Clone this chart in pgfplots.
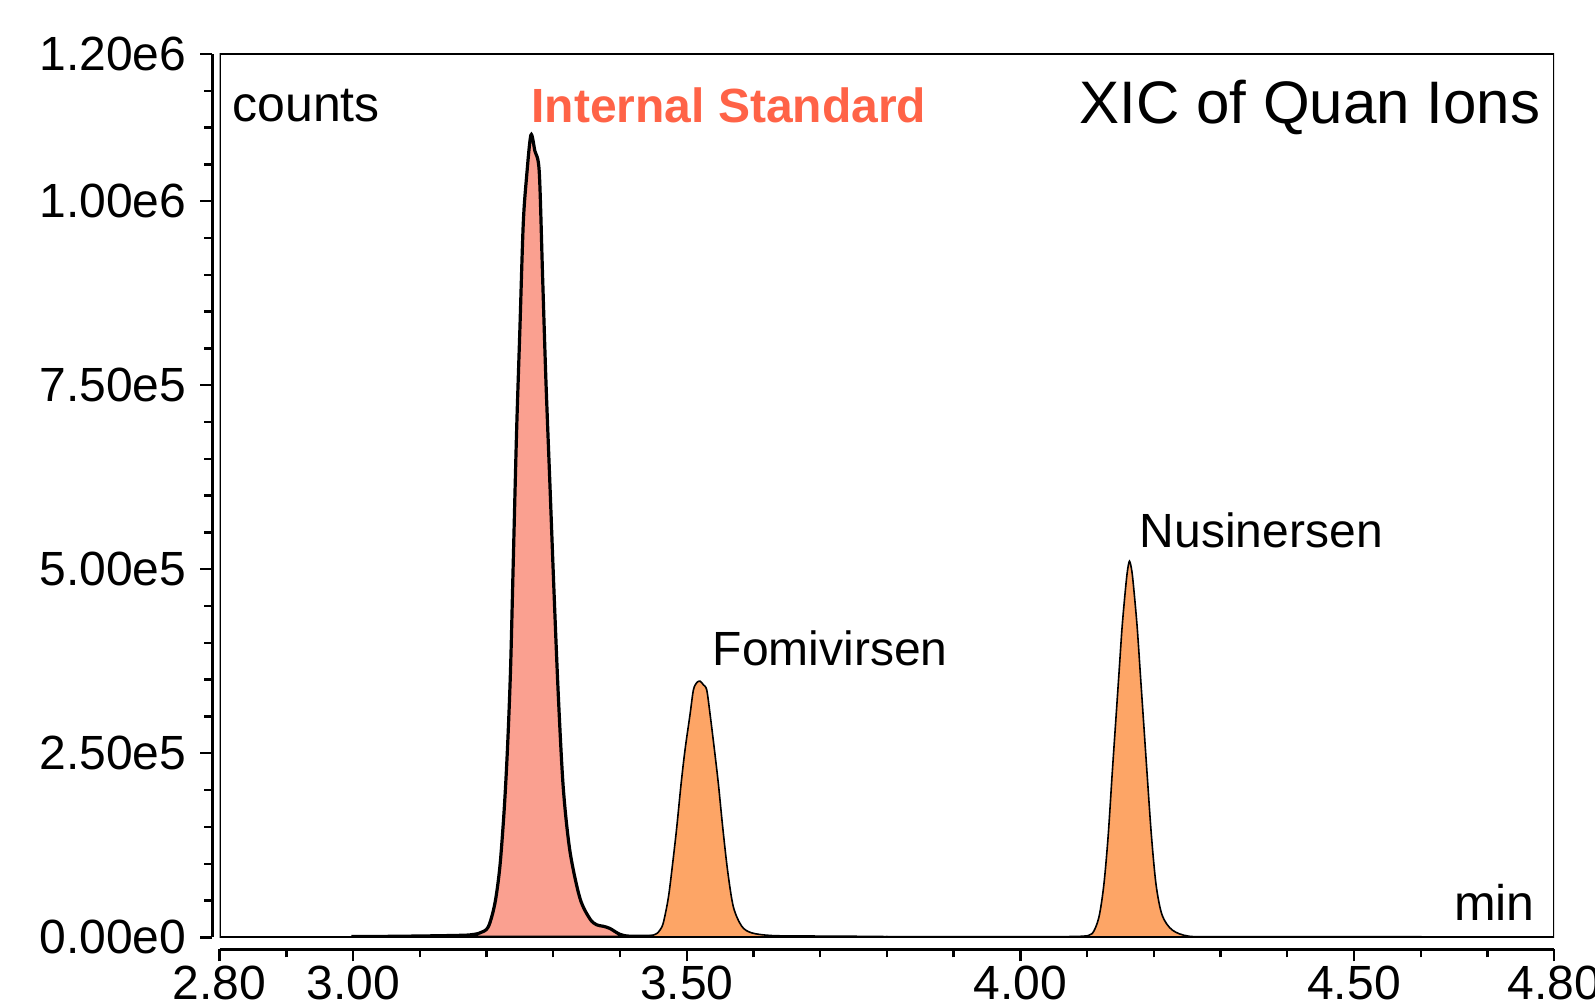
\documentclass[border=0pt]{standalone}
\usepackage{fontspec}
\setmainfont{Liberation Sans}
\usepackage{pgfplots}
\pgfplotsset{compat=1.18}
\definecolor{isfill}{HTML}{FAA090}
\definecolor{qfill}{HTML}{FDA566}
\definecolor{islabel}{HTML}{FF6347}

\begin{document}
\begin{tikzpicture}
\begin{axis}[
  name=ax,
  scale only axis,
  width=333.6pt, height=220.8pt,
  xmin=2.8, xmax=4.8, ymin=0, ymax=1200000,
  axis x line*=bottom, axis y line*=left,
  axis x line shift=3pt, axis y line shift=1.8pt,
  axis line style={-, line width=0.6pt},
  xtick={2.8,3.0,3.5,4.0,4.5,4.8},
  xticklabels={2.80,3.00,3.50,4.00,4.50,4.80},
  minor xtick={2.9,3.1,3.2,3.3,3.4,3.6,3.7,3.8,3.9,4.1,4.2,4.3,4.4,4.6,4.7},
  ytick={0,250000,500000,750000,1000000,1200000},
  yticklabels={0.00e0,2.50e5,5.00e5,7.50e5,1.00e6,1.20e6},
  minor ytick={50000,100000,150000,200000,300000,350000,400000,450000,550000,600000,650000,700000,800000,850000,900000,950000,1050000,1100000,1150000},
  tick align=outside,
  major tick length=3pt, minor tick length=2pt,
  every tick/.style={black, line width=0.6pt},
  tick label style={font=\fontsize{12}{14}\selectfont},
  xticklabel style={yshift=-0.4pt, inner ysep=0.5pt},
  scaled y ticks=false,
  every axis plot/.append style={smooth, tension=0.5},
]
% internal standard trace
\addplot[draw=black, line width=0.8pt, fill=isfill] coordinates {
  (3.000,1000)(3.050,1300)(3.100,1800)(3.150,2500)(3.175,3300)(3.190,6000)
  (3.2025,14000)(3.2125,46000)(3.220,96000)(3.2265,174000)(3.2315,259000)
  (3.236,365000)(3.240,508000)(3.245,686000)(3.250,827000)(3.255,969000)
  (3.260,1033000)(3.2665,1090000)(3.2725,1068000)(3.279,1040000)(3.284,898000)
  (3.289,756000)(3.295,615000)(3.301,472000)(3.3075,330000)(3.315,203000)
  (3.325,117000)(3.340,53000)(3.355,25000)(3.365,17000)(3.375,15000)
  (3.385,12000)(3.400,4000)(3.415,1500)(3.450,1500)(3.500,1000)(3.550,1000)
} \closedcycle;
% fomivirsen
\addplot[draw=black, line width=0.4pt, fill=qfill] coordinates {
  (3.440,1500)(3.450,3000)(3.455,5000)(3.460,10000)(3.465,20000)
  (3.4725,54000)(3.479,101000)(3.485,149000)(3.4915,208000)(3.4975,255000)
  (3.505,303000)(3.510,336000)(3.515,346000)(3.520,348000)(3.525,343000)
  (3.530,336000)(3.535,303000)(3.5415,255000)(3.5475,208000)(3.554,149000)
  (3.5615,89000)(3.570,41000)(3.5825,15000)(3.5975,6000)(3.6275,2400)
  (3.680,1800)(3.740,1500)(3.800,1000)
} \closedcycle;
% nusinersen
\addplot[draw=black, line width=0.4pt, fill=qfill] coordinates {
  (3.800,800)(3.900,900)(4.000,900)(4.060,1000)(4.0925,1500)(4.1075,5000)
  (4.1175,26600)(4.125,70500)(4.1315,137000)(4.1375,221000)(4.1425,288000)
  (4.1475,355000)(4.1525,422000)(4.1575,473000)(4.1605,498000)(4.1635,511000)
  (4.1670,498000)(4.170,473000)(4.175,422000)(4.180,355000)(4.185,288000)
  (4.190,221000)(4.1965,137000)(4.2035,70500)(4.2125,30000)(4.2275,10000)
  (4.2525,1500)(4.300,1000)(4.400,900)(4.500,800)(4.600,800)
} \closedcycle;
\draw[line width=0.6pt] (rel axis cs:0,0) rectangle (rel axis cs:1,1);
\node[anchor=west, inner sep=0pt, font=\fontsize{12.5}{15}\selectfont] at (rel axis cs:0.009,0.942) {counts};
\node[anchor=west, inner sep=0pt, font=\fontsize{12}{14}\selectfont\bfseries, text=islabel] at (rel axis cs:0.233,0.942) {Internal Standard};
\node[anchor=east, inner sep=0pt, font=\fontsize{15}{18}\selectfont] at (rel axis cs:0.990,0.940) {XIC of Quan Ions};
\node[anchor=west, inner sep=0pt, font=\fontsize{12}{14}\selectfont] at (axis cs:3.538,392600) {Fomivirsen};
\node[anchor=west, inner sep=0pt, font=\fontsize{12}{14}\selectfont] at (axis cs:4.178,553000) {Nusinersen};
\node[anchor=east, inner sep=0pt, font=\fontsize{12.5}{15}\selectfont] at (rel axis cs:0.986,0.040) {min};
\end{axis}
\pgfresetboundingbox
\path[use as bounding box] ([xshift=-54.9pt,yshift=-17.5pt]ax.south west) rectangle ([xshift=10.2pt,yshift=13.5pt]ax.north east);
\end{tikzpicture}
\end{document}
